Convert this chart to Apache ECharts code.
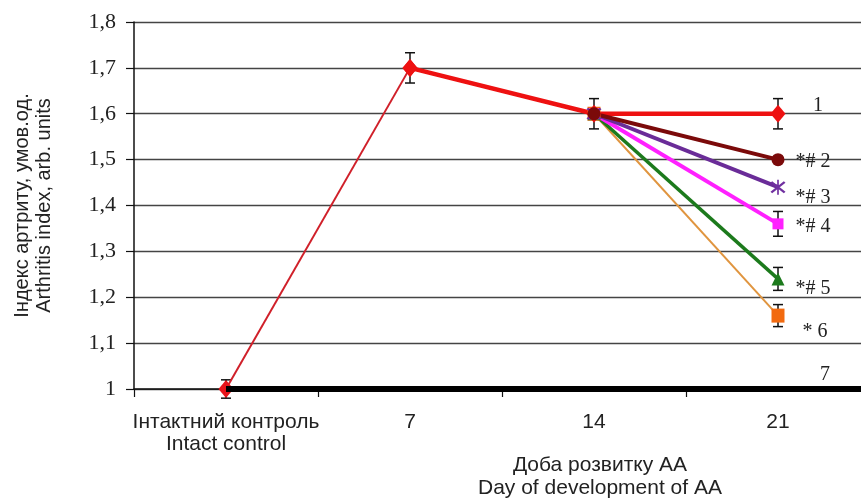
<!DOCTYPE html>
<html><head><meta charset="utf-8">
<script src="https://cdn.jsdelivr.net/npm/echarts@6/dist/echarts.min.js"></script>
<style>html,body{margin:0;padding:0;background:#fff}#c{width:861px;height:501px}</style>
</head><body><div id="c"></div>
<script>
const categories = ['Інтактний контроль\nIntact control', '7', '14', '21', ''];
const yTicks = [1.0, 1.1, 1.2, 1.3, 1.4, 1.5, 1.6, 1.7, 1.8];
const g1 = [1.0, 1.7, 1.6, 1.6];
const g2 = [null, null, 1.6, 1.50];
const g3 = [null, null, 1.6, 1.44];
const g4 = [null, null, 1.6, 1.36];
const g5 = [null, null, 1.6, 1.24];
const g6 = [null, null, 1.6, 1.16];
const g7 = [1.0, 1.0, 1.0, 1.0, 1.0];
const err1 = [0.02, 0.033, 0.033, 0.033];
const err4 = [null, null, null, 0.027];
const err5 = [null, null, null, 0.025];
const err6 = [null, null, null, 0.024];
const endLabels = ['1', '*# 2', '*# 3', '*# 4', '*# 5', '* 6', '7'];
const yAxisName = 'Індекс артриту, умов.од.\nArthritis index, arb. units';
const xAxisName = 'Доба розвитку АА\nDay of development of AA';

const chart = echarts.init(document.getElementById('c'), null, {renderer: 'canvas'});

function errData(vals, errs) {
  const out = [];
  vals.forEach((v, i) => { if (v != null && errs[i] != null) out.push([i, v - errs[i], v + errs[i]]); });
  return out;
}
const errAll = [].concat(errData(g1, err1), errData(g4, err4), errData(g5, err5), errData(g6, err6));

function renderErr(params, api) {
  const x = api.value(0), lo = api.value(1), hi = api.value(2);
  const p1 = api.coord([x, lo]), p2 = api.coord([x, hi]);
  const w = 5, st = {stroke: '#111', lineWidth: 1.5};
  return {type: 'group', children: [
    {type: 'line', shape: {x1: p1[0], y1: p1[1], x2: p2[0], y2: p2[1]}, style: st},
    {type: 'line', shape: {x1: p1[0] - w, y1: p1[1], x2: p1[0] + w, y2: p1[1]}, style: st},
    {type: 'line', shape: {x1: p2[0] - w, y1: p2[1], x2: p2[0] + w, y2: p2[1]}, style: st}
  ]};
}

const labelFont = {fontFamily: 'Liberation Serif', fontSize: 20, color: '#222'};
function endLabel(idx, offset) {
  return Object.assign({show: true, position: 'inside', offset: offset,
    formatter: p => p.dataIndex === 3 ? endLabels[idx] : ''}, labelFont);
}
const asterisk = 'path://M9,0 L11,0 L11,20 L9,20 Z M1,4 L3,2 L19,16 L17,18 Z M17,2 L19,4 L3,18 L1,16 Z';

const option = {
  animation: false,
  grid: {left: 134, top: 22, right: -193, bottom: 112, outerBoundsMode: 'none', containLabel: false},
  xAxis: {
    type: 'category', data: categories, boundaryGap: true,
    axisLine: {show: true, lineStyle: {color: '#111', width: 1.5}},
    axisTick: {show: true, length: 8, lineStyle: {color: '#111', width: 1.2}},
    axisLabel: {fontFamily: 'Liberation Sans', fontSize: 21, color: '#222', margin: 22, lineHeight: 22, interval: 0},
    splitLine: {show: false}
  },
  yAxis: {
    type: 'value', min: 1.0, max: 1.8, interval: 0.1,
    name: yAxisName, nameLocation: 'middle', nameGap: 79, nameRotate: 90,
    nameTextStyle: {fontFamily: 'Liberation Sans', fontSize: 20, color: '#222', lineHeight: 22},
    axisLine: {show: true, lineStyle: {color: '#111', width: 1.5}},
    axisTick: {show: true, length: 8, inside: false, lineStyle: {color: '#111', width: 1.2}},
    axisLabel: {fontFamily: 'Liberation Serif', fontSize: 22, color: '#222', margin: 18,
      formatter: v => { const t = yTicks.find(k => Math.abs(k - v) < 1e-6); return (Math.round(t * 10) / 10).toString().replace('.', ','); }},
    splitLine: {show: true, lineStyle: {color: '#444', width: 1.3}}
  },
  graphic: [{type: 'text', x: 600, y: 454, style: {text: xAxisName, textAlign: 'center',
    font: '21px "Liberation Sans"', fill: '#222', lineHeight: 23}}],
  series: [
    {type: 'custom', z: 1, renderItem: renderErr, data: errAll, silent: true},
    {name: 'base', type: 'line', z: 2, data: [g1[0], g1[1], null, null], symbol: 'diamond', symbolSize: [15, 18],
      itemStyle: {color: '#e8141b'}, lineStyle: {color: '#d0202a', width: 2}},
    {name: 'g7', type: 'line', z: 3, data: g7, symbol: 'circle', symbolSize: 0.1, showSymbol: true,
      itemStyle: {color: '#000'}, lineStyle: {color: '#000', width: 6}, label: endLabel(6, [47, -14])},
    {name: 'g6', type: 'line', z: 4, data: g6, symbol: 'rect', symbolSize: [13, 14],
      itemStyle: {color: '#f26a10'}, lineStyle: {color: '#e0953f', width: 2}, label: endLabel(5, [37, 16])},
    {name: 'g5', type: 'line', z: 4, data: g5, symbol: 'triangle', symbolSize: 13,
      itemStyle: {color: '#1c7a1c'}, lineStyle: {color: '#1c7a1c', width: 3.5}, label: endLabel(4, [35, 10])},
    {name: 'g4', type: 'line', z: 4, data: g4, symbol: 'rect', symbolSize: 11,
      itemStyle: {color: '#ff20ff'}, lineStyle: {color: '#ff20ff', width: 4}, label: endLabel(3, [35, 3])},
    {name: 'g3', type: 'line', z: 4, data: g3, symbol: asterisk, symbolSize: 15,
      itemStyle: {color: '#7030a0'}, lineStyle: {color: '#6a2c98', width: 4}, label: endLabel(2, [35, 11])},
    {name: 'g1', type: 'line', z: 4, data: [null, g1[1], g1[2], g1[3]], symbol: 'diamond', symbolSize: [15, 18],
      itemStyle: {color: '#ee1111'}, lineStyle: {color: '#ee1111', width: 4.5}, label: endLabel(0, [40, -8])},
    {name: 'g2', type: 'line', z: 4, data: g2, symbol: 'circle', symbolSize: 13,
      itemStyle: {color: '#7b0a0a'}, lineStyle: {color: '#7b0a0a', width: 4}, label: endLabel(1, [35, 2])}
  ]
};
chart.setOption(option);
</script></body></html>
